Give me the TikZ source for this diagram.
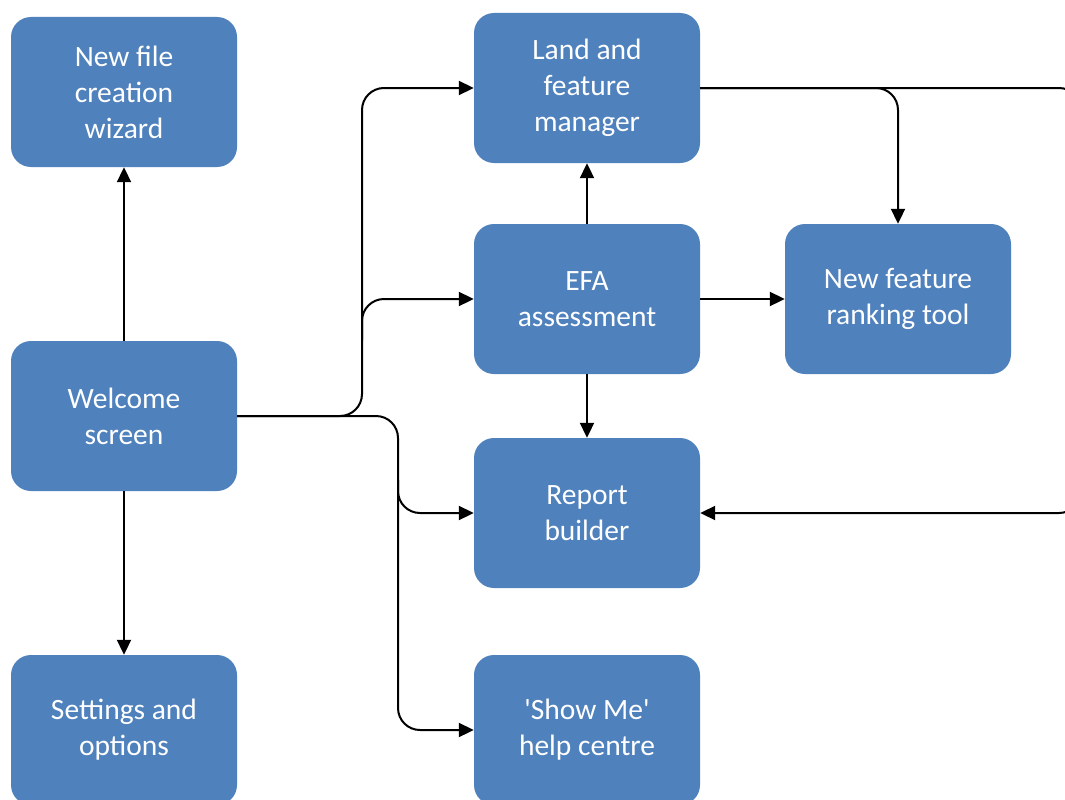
\documentclass[tikz,border=0pt]{standalone}
\usepackage{fontspec}
\setmainfont{Carlito}
\usetikzlibrary{arrows.meta}
\definecolor{boxblue}{HTML}{4F81BD}
\tikzset{
  box/.style={fill=boxblue, rounded corners=20pt, minimum width=226pt, minimum height=150pt,
    text=white, align=center, inner sep=0pt,
    font=\fontsize{29.5pt}{36pt}\selectfont},
  conn/.style={draw=black, line width=2pt, -{Triangle[length=15pt,width=14pt]}},
}
\begin{document}
\begin{tikzpicture}[x=1pt,y=-1pt]
\useasboundingbox (0,0) rectangle (1065,800);
\clip (0,0) rectangle (1065,800);
\node[box] (wiz) at (124,92) {New file\\creation\\wizard};
\node[box] (wel) at (124,416) {Welcome\\screen};
\node[box] (set) at (124,730) {Settings and\\options};
\node[box] (land) at (587,88) {Land and\\feature\\manager};
\node[box] (efa) at (587,299) {EFA\\assessment};
\node[box] (rank) at (898,299) {New feature\\ranking tool};
\node[box] (rep) at (587,513) {Report\\builder};
\node[box] (show) at (587,730) {\textquotesingle Show Me\textquotesingle\\help centre};
\coordinate (b1) at (362,416);
\coordinate (b1u) at (362,340);
\coordinate (b2) at (398,416);
\coordinate (b2d) at (398,480);
\coordinate (rt) at (1081,88);
% welcome up/down
\draw[conn] (wel.north) -- (wiz.south);
\draw[conn] (wel.south) -- (set.north);
% welcome to right column
\draw[conn, rounded corners=22pt] (wel.east) -- (b1) |- (land.west);
\draw[conn, rounded corners=22pt] (b1u) |- (efa.west);
\draw[conn, rounded corners=22pt] (wel.east) -- (b2) |- (rep.west);
\draw[conn, rounded corners=22pt] (b2d) |- (show.west);
% EFA
\draw[conn] (efa.north) -- (land.south);
\draw[conn] (efa.east) -- (rank.west);
\draw[conn] (efa.south) -- (rep.north);
% land manager outputs
\draw[conn, rounded corners=22pt] (land.east) -| (rank.north);
\draw[conn, rounded corners=22pt] (land.east) -- (rt) |- (rep.east);
\end{tikzpicture}
\end{document}
